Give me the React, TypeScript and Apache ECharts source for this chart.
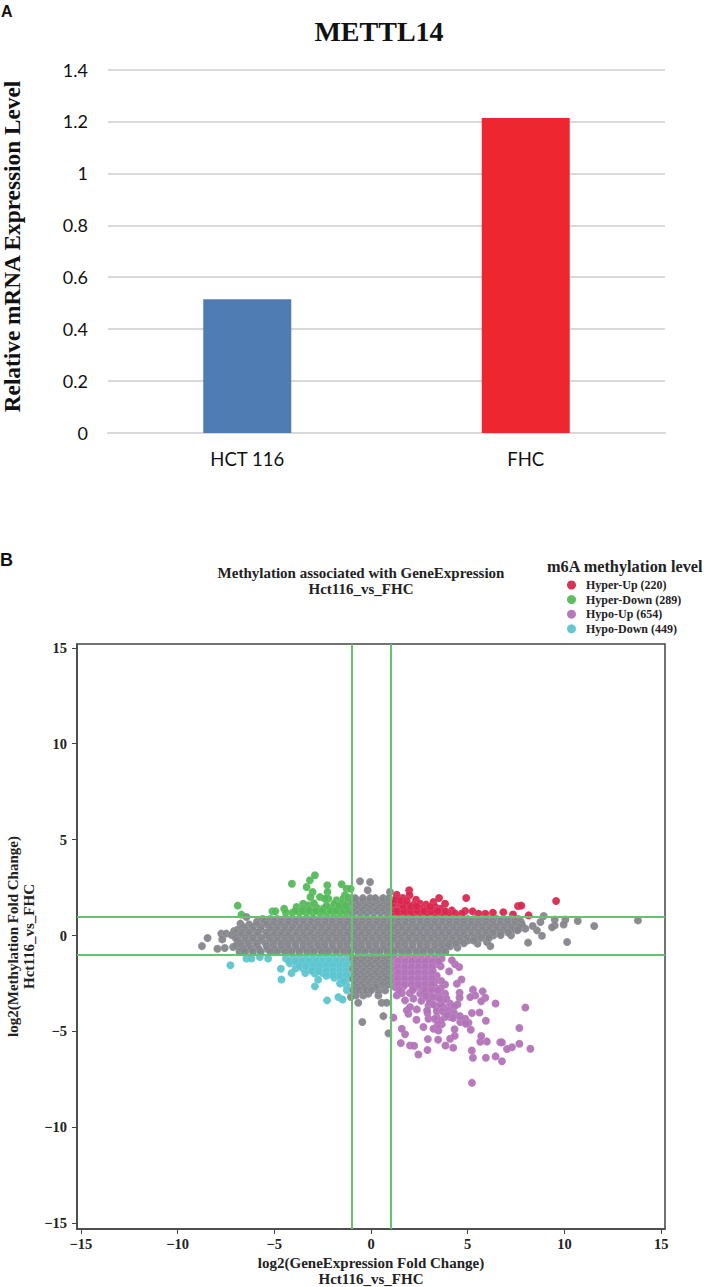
import React, { useEffect, useRef } from "react";
import * as echarts from "echarts";

const barCategories = ["HCT 116", "FHC"];
const barValues = [0.515, 1.213];
const barColors = ["#4f7db3", "#ee2630"];

const axisTicks = [-15, -10, -5, 0, 5, 10, 15];
const thresholds = [-1, 1];

const hyperUpNames = "Hyper-Up (220)";
const hyperDownNames = "Hyper-Down (289)";
const hypoUpNames = "Hypo-Up (654)";
const hypoDownNames = "Hypo-Down (449)";

const hyperUp = [
  [1.97,2.36],[4.92,1.96],[9.57,1.8],[7.6,1.54],[7.77,1.56],[6.84,1.21],[8.15,1.05],[3.52,1.96],[3.83,1.66],[2.33,1.87],
  [1.64,1.96],[1.33,2.13],[1.99,2.1],[1.36,1.66],[1.85,1.58],[2.54,1.66],[2.85,1.61],[3.23,1.75],[3.32,1.49],[4.18,1.31],
  [4.87,1.28],[5.25,1.26],[6.3,1.19],[7.34,1.1],[5.91,1.14],[5.56,1.14],[1.2,1.15],[1.55,1.15],[1.9,1.15],[2.25,1.15],
  [2.6,1.15],[2.95,1.15],[3.3,1.15],[3.65,1.15],[4,1.15],[4.35,1.15],[4.7,1.15],[1.15,1.4],[1.5,1.4],[1.85,1.4],[2.2,1.4],
  [2.55,1.4],[2.9,1.4],[3.25,1.3],[3.6,1.4],[1.15,1.7],[1.5,1.7],[2.2,1.6],[1.3,1.95],
  [1.35,1.27],[1.7,1.28],[2.05,1.27],[2.4,1.28],[2.75,1.27],[3.1,1.25],[3.45,1.27],[3.85,1.26],[1.65,1.55],[2.05,1.52],[2.35,1.52],[3.05,1.5],[1.25,1.85],[1.55,1.82],[1.85,1.8],
];

const hyperDown = [
  [-6.89,1.56],[-6.7,1.09],[-5.1,1.26],[-4.94,1.26],[-4.49,1.4],[-4.09,2.7],[-3.33,2.53],[-3.16,2.88],[-2.9,3.14],[-3.02,2.27],
  [-3.13,2.01],[-2.26,2.62],[-2.25,2.27],[-2.21,1.92],[-1.52,2.67],[-1.26,2.44],[-1.05,2.44],[-1.35,2.1],[-2.64,2.01],[-2.38,1.92],
  [-1.78,1.84],[-1.43,1.92],[-3.85,1.49],[-3.51,1.66],[-3.25,1.58],[-4.4,1.2],[-4.05,1.2],[-3.7,1.2],[-3.35,1.2],[-3,1.2],
  [-2.65,1.2],[-2.3,1.2],[-1.95,1.2],[-1.6,1.2],[-1.25,1.2],[-3.5,1.42],[-3.15,1.4],[-2.8,1.45],[-2.45,1.42],[-2.1,1.45],
  [-1.75,1.42],[-1.4,1.45],[-1.12,1.4],[-2.95,1.68],[-1.9,1.65],[-1.5,1.7],[-1.2,1.72],[-1.18,1.98],
  [-3.9,1.3],[-3.55,1.3],[-3.2,1.3],[-2.85,1.3],[-2.5,1.3],[-2.1,1.3],[-1.8,1.3],[-1.45,1.3],[-1.15,1.3],[-1.65,1.55],[-1.3,1.55],[-2.3,1.55],
];

const hypoUp = [
  [5.22,-7.68],[8.24,-5.9],[7.67,-5.64],[7.67,-4.82],[7.98,-3.75],[6.44,-3.54],[7.29,-5.82],[7.03,-5.92],[6.77,-6.55],[6.44,-6.3],
  [5.94,-6.37],[5.27,-6.37],[5.21,-5.99],[6.68,-5.56],[6.77,-5.57],[5.99,-5.52],[5.65,-5.54],[5.7,-5.24],[5.94,-4.44],[5.77,-2.91],
  [5.91,-3.24],[5.7,-3.43],[5.27,-2.82],[5.39,-3.12],[5.13,-3.21],[4.58,-2.98],[4.58,-3.24],[4.68,-2.29],[4.44,-2.51],[4.56,-1.64],
  [4.35,-1.5],[4.18,-1.29],[4.04,-1.87],[3.83,-2.55],[3.63,-2.37],[2.45,-6.2],[2.92,-5.97],[2.02,-5.73],[2.23,-5.75],[1.54,-5.61],
  [1.76,-5.15],[1.59,-4.86],[1.16,-4.28],[2.35,-4.39],[2.71,-4.77],[2.94,-5.4],[3.47,-5.43],[3.85,-5.73],[4.25,-5.85],[4.09,-5.38],
  [4.33,-5.22],[4.32,-4.89],[3.23,-4.86],[3.49,-4.95],[3.66,-4.63],[5.16,-4.91],[5.04,-4.55],[4.61,-4.51],[4.87,-4.34],[5.22,-4.04],
  [5.61,-4.01],[4.09,-4.25],[3.83,-4.25],[3.4,-4.25],[2.97,-4.34],[2.92,-4.04],[1.93,-4.08],[1.85,-3.9],[2.02,-3.73],[2.37,-3.85],
  [2.97,-3.64],[3.4,-3.73],[3.75,-3.73],[4.09,-3.55],[4.47,-3.59],[3.83,-3.03],[3.4,-3.21],[2.97,-3.29],[2.54,-3.03],[2.19,-3.29],
  [1.76,-3.38],[1.33,-3.12],[1.2,-1.2],[1.55,-1.2],[1.9,-1.2],[2.25,-1.2],[2.6,-1.2],[2.95,-1.2],[3.3,-1.2],[3.65,-1.2],
  [1.25,-1.5],[1.6,-1.5],[1.95,-1.5],[2.3,-1.5],[2.65,-1.5],[3,-1.5],[3.35,-1.5],[3.6,-1.6],[1.2,-1.8],[1.55,-1.8],[1.9,-1.8],
  [2.25,-1.8],[2.6,-1.8],[2.95,-1.8],[3.2,-1.85],[1.25,-2.1],[1.6,-2.1],[1.95,-2.1],[2.3,-2.1],[2.65,-2.1],[3,-2.1],[3.4,-2.1],
  [1.2,-2.4],[1.55,-2.4],[1.9,-2.4],[2.25,-2.4],[2.6,-2.4],[2.95,-2.4],[3.3,-2.4],[1.25,-2.7],[1.65,-2.7],[2.3,-2.7],[2.6,-2.7],
  [2.95,-2.7],[3.3,-2.7],[3.6,-2.75],[1.6,-3],[2,-3],[2.7,-3],[3.05,-3],[3.5,-3],[3.9,-3.3],[2.6,-3.4],[3.05,-3.5],[3.75,-3.35],
  [2.9,-3.9],[3.25,-3.6],[3.6,-3.6],[4.3,-3.7],[3.4,-3.95],[3.7,-3.95],[4,-3.9],[4.3,-4.05],[3.3,-4.35],[3.6,-4.45],[3.95,-4.15],
  [4.25,-4.3],[4.6,-4.2],[3.45,-4.65],[4.9,-4.6],
  [1.4,-1.35],[1.78,-1.35],[2.12,-1.35],[2.48,-1.35],[2.82,-1.35],[3.18,-1.35],[3.5,-1.35],[1.38,-1.65],[1.75,-1.65],[2.1,-1.65],[2.45,-1.65],[2.8,-1.65],[3.15,-1.65],
  [1.4,-1.95],[1.75,-1.95],[2.1,-1.95],[2.45,-1.95],[2.8,-1.95],[3.15,-1.95],[1.38,-2.25],[1.75,-2.25],[2.1,-2.25],[2.45,-2.25],[2.8,-2.25],[3.15,-2.25],
  [1.4,-2.55],[1.75,-2.55],[2.1,-2.55],[2.45,-2.55],[2.8,-2.55],[3.15,-2.55],[1.45,-2.85],[2.15,-2.85],[2.8,-2.85],[3.15,-2.85],[3.45,-2.85],[2.85,-3.15],[3.2,-3.2],[3.55,-3.3],
];

const hypoDown = [
  [-7.27,-1.55],[-6.44,-1.2],[-6.18,-1.2],[-5.75,-1.12],[-5.32,-1.2],[-4.63,-2.29],[-4.66,-1.73],[-4.11,-1.96],[-2.9,-2.65],[-2.27,-3.38],
  [-1.69,-3.21],[-1.47,-3.33],[-2.73,-2.3],[-1.26,-2.6],[-1.2,-2.25],[-4.4,-1.2],[-4.05,-1.2],[-3.7,-1.2],[-3.35,-1.2],[-3,-1.2],
  [-2.65,-1.2],[-2.3,-1.2],[-1.95,-1.2],[-1.6,-1.2],[-1.25,-1.2],[-4.2,-1.45],[-3.85,-1.45],[-3.5,-1.45],[-3.15,-1.45],[-2.8,-1.45],
  [-2.45,-1.45],[-2.1,-1.45],[-1.75,-1.45],[-1.4,-1.45],[-1.12,-1.45],[-3.9,-1.72],[-3.55,-1.7],[-3.2,-1.72],[-2.85,-1.7],[-2.5,-1.72],
  [-2.15,-1.7],[-1.8,-1.72],[-1.45,-1.7],[-1.15,-1.72],[-3.4,-1.95],[-2.9,-1.98],[-2.5,-1.95],[-2.1,-1.98],[-1.75,-1.95],[-1.4,-1.98],
  [-1.15,-1.95],[-1.9,-2.2],[-1.55,-2.2],[-1.2,-2.2],[-1.6,-2.5],[-1.25,-2.85],
  [-4.25,-1.33],[-3.9,-1.33],[-3.55,-1.33],[-3.2,-1.33],[-2.85,-1.33],[-2.5,-1.33],[-2.15,-1.33],[-1.8,-1.33],[-1.45,-1.33],[-1.15,-1.33],
  [-3.7,-1.58],[-3.35,-1.58],[-3,-1.58],[-2.65,-1.58],[-2.3,-1.58],[-1.95,-1.58],[-1.6,-1.58],[-1.28,-1.58],[-3.05,-1.85],[-2.7,-1.85],[-2.3,-1.85],[-1.95,-1.85],[-1.6,-1.85],[-1.28,-1.85],
  [-2.3,-2.1],[-1.95,-2.08],[-1.6,-2.08],[-1.28,-2.08],[-1.4,-2.38],
];

const grayOutliers = [
  [13.8,0.79],[11.54,0.5],[10.69,0.76],[10.14,-0.34],[8.12,-0.37],[10.05,0.83],[9.96,0.58],[9.5,0.83],[9.5,0.53],[9.36,0.43],
  [8.84,-0.01],[8.93,1.02],[8.76,0.71],[8.58,0.27],[8.36,0.5],[7.98,0.36],[7.55,0.27],[7.24,0.01],[6.34,0.01],[6.17,-0.55],
  [5.99,-0.34],[5.51,-0.42],[4.47,-0.63],[4.09,-0.56],[-8.74,-0.55],[-8.45,-0.13],[-7.94,-0.69],[-7.74,0.1],[-7.48,0.1],[-7.69,-0.2],
  [-7.56,-0.65],[-7.08,0.24],[-7.13,-0.6],[-6.75,0.62],[-6.44,0.97],[-0.57,2.83],[-0.05,2.79],[-0.17,2.36],[0.98,2.27],
  [-0.66,-3.5],[-0.45,-4.51],[0.64,-4.2],[0.9,-5.1],[0.55,-3.5],[0.81,-3.5],[0.38,-3.12],[0.38,-2.86],[0.73,-2.86],[-0.4,-3.12],
  [-0.14,-3.03],[-0.78,-3.12],[-1.04,-3.2],
];

const grayRows: [number, number[]][] = [
  [0.86, [-5.6,-5.2,-4.85,-4.45,-4.1,-3.7,-3.3,-2.95,-2.55,-2.2,-1.8,-1.4,-1.05,-0.65,-0.3,0.1,0.45,0.85,1.2,1.6,1.95,2.35,2.7,3.1,3.5,3.85,4.25,4.6,5,5.35,5.75,6.1,6.5,6.85,7.25,7.6]],
  [0.72, [-5.9,-5.5,-5,-4.65,-4.25,-3.9,-3.5,-3.1,-2.75,-2.35,-2,-1.6,-1.2,-0.85,-0.45,-0.1,0.3,0.65,1.05,1.4,1.8,2.15,2.55,2.9,3.3,3.7,4.05,4.45,4.8,5.2,5.55,5.95,6.3,6.7,7.05,7.45,7.75]],
  [0.58, [-6.3,-5.9,-5.4,-5.05,-4.65,-4.3,-3.9,-3.5,-3.15,-2.75,-2.4,-2,-1.6,-1.25,-0.85,-0.5,-0.1,0.25,0.65,1,1.4,1.75,2.15,2.55,2.9,3.3,3.65,4.05,4.4,4.8,5.2,5.55,5.95,6.3,6.7,7.05,7.45,7.8]],
  [0.44, [-6.6,-6.15,-5.7,-5.25,-4.85,-4.45,-4.05,-3.65,-3.3,-2.9,-2.55,-2.15,-1.8,-1.4,-1,-0.65,-0.25,0.1,0.5,0.85,1.25,1.6,2,2.35,2.75,3.1,3.5,3.9,4.25,4.65,5,5.4,5.75,6.15,6.5,6.9,7.25,7.65]],
  [0.3, [-6.9,-6.5,-6.1,-5.7,-5.2,-4.85,-4.45,-4.1,-3.7,-3.3,-2.95,-2.55,-2.2,-1.8,-1.4,-1.05,-0.65,-0.3,0.1,0.45,0.85,1.2,1.6,1.95,2.35,2.7,3.1,3.5,3.85,4.25,4.6,5,5.35,5.75,6.1,6.5,6.85,7.25,7.6]],
  [0.16, [-7,-6.65,-6.3,-5.85,-5.4,-5,-4.6,-4.25,-3.85,-3.5,-3.1,-2.7,-2.35,-1.95,-1.6,-1.2,-0.85,-0.45,-0.1,0.3,0.65,1.05,1.4,1.8,2.15,2.55,2.9,3.3,3.7,4.05,4.45,4.8,5.2,5.55,5.95,6.3,6.7,7.1]],
  [0.02, [-7.2,-6.7,-6.3,-5.9,-5.4,-5.05,-4.65,-4.3,-3.9,-3.5,-3.15,-2.75,-2.4,-2,-1.6,-1.25,-0.85,-0.5,-0.1,0.25,0.65,1,1.4,1.75,2.15,2.55,2.9,3.3,3.65,4.05,4.4,4.8,5.2,5.55,5.95,6.7]],
  [-0.12, [-7,-6.5,-6.1,-5.65,-5.25,-4.85,-4.45,-4.1,-3.7,-3.35,-2.95,-2.6,-2.2,-1.8,-1.45,-1.05,-0.7,-0.3,0.05,0.45,0.8,1.2,1.55,1.95,2.35,2.7,3.1,3.45,3.85,4.2,4.6,4.95,5.35,5.7,6.1]],
  [-0.26, [-6.9,-6.5,-6.1,-5.7,-5.2,-4.85,-4.45,-4.1,-3.7,-3.3,-2.95,-2.55,-2.2,-1.8,-1.4,-1.05,-0.65,-0.3,0.1,0.45,0.85,1.2,1.6,1.95,2.35,2.7,3.1,3.5,3.85,4.25,4.6,5,5.3]],
  [-0.4, [-6.75,-6.35,-5.9,-5.45,-5.05,-4.65,-4.3,-3.9,-3.5,-3.15,-2.75,-2.4,-2,-1.6,-1.25,-0.85,-0.5,-0.1,0.25,0.65,1,1.4,1.75,2.15,2.55,2.9,3.3,3.65,4.05,4.4,4.8]],
  [-0.54, [-7,-6.7,-6.3,-5.9,-5.4,-5.05,-4.65,-4.3,-3.9,-3.5,-3.15,-2.75,-2.4,-2,-1.6,-1.25,-0.85,-0.5,-0.1,0.25,0.65,1,1.4,1.75,2.15,2.55,2.9,3.3,3.65,3.95]],
  [-0.7, [-6.6,-6.2,-5.8,-5.35,-5,-4.6,-4.25,-3.85,-3.5,-3.1,-2.7,-2.35,-1.95,-1.6,-1.2,-0.85,-0.45,-0.1,0.3,0.65,1.05,1.4,1.8,2.15,2.55,2.9,3.3,3.7]],
  [-0.84, [-6.8,-6.5,-6.1,-5.7,-5.2,-4.85,-4.45,-4.1,-3.7,-3.3,-2.95,-2.55,-2.2,-1.8,-1.4,-1.05,-0.65,-0.3,0.1,0.45,0.85,1.2,1.6,1.95,2.35,2.7,3.1,3.5,3.85]],
  [1.18, [-0.92,-0.55,-0.2,0.15,0.5,0.82]],
  [1.31, [-0.75,-0.4,-0.02,0.32,0.68]],
  [1.44, [-0.85,-0.5,-0.12,0.22,0.58,0.9]],
  [1.57, [-0.72,-0.35,0,0.38,0.72]],
  [1.7, [-0.92,-0.6,-0.25,0.1,0.45,0.82]],
  [1.83, [-0.75,-0.4,-0.05,0.3,0.65]],
  [1.95, [-0.82,-0.42,-0.05,0.22,0.62,0.92]],
  [-1.16, [-0.92,-0.55,-0.2,0.15,0.5,0.82]],
  [-1.3, [-0.75,-0.4,-0.02,0.32,0.68]],
  [-1.44, [-0.85,-0.5,-0.12,0.22,0.58,0.9]],
  [-1.58, [-0.72,-0.35,0,0.38,0.72]],
  [-1.72, [-0.92,-0.6,-0.25,0.1,0.45,0.82]],
  [-1.86, [-0.75,-0.4,-0.05,0.3,0.65]],
  [-2, [-0.85,-0.5,-0.12,0.22,0.58,0.9]],
  [-2.14, [-0.72,-0.35,0,0.38,0.72]],
  [-2.28, [-0.92,-0.6,-0.25,0.1,0.45,0.82]],
  [-2.42, [-0.75,-0.4,-0.05,0.3,0.65]],
  [-2.56, [-0.85,-0.5,-0.12,0.22,0.58,0.88]],
  [-2.7, [-0.72,-0.35,0,0.25]],
  [-2.84, [-0.92,-0.6,-0.25,0.02]],
];

const gray = [
  ...grayOutliers,
  ...grayRows.flatMap(([y, xs]) => xs.map((x) => [x, y])),
];

const serif = '"Liberation Serif", serif';
const dotSize = 8;

function scatterSeries(name: string, data: number[][], color: string, extra: object = {}) {
  return {
    type: "scatter",
    name,
    xAxisIndex: 1,
    yAxisIndex: 1,
    data,
    symbolSize: dotSize,
    itemStyle: { color, opacity: 0.95, borderColor: "rgba(255,255,255,0.2)", borderWidth: 0.6 },
    ...extra,
  };
}

export default function App() {
  const ref = useRef<HTMLDivElement>(null);
  useEffect(() => {
    const chart = echarts.init(ref.current!, undefined, { renderer: "svg" });
    const minus = (v: number) => String(v).replace("-", "\u2212");
    chart.setOption({
      animation: false,
      backgroundColor: "#fff",
      title: [
        {
          text: "METTL14", left: 374, top: 12, textAlign: "center",
          textStyle: { fontFamily: serif, fontWeight: "bold", fontSize: 28, color: "#111" },
        },
        {
          text: "Methylation associated with GeneExpression\nHct116_vs_FHC", left: 356, top: 560, textAlign: "center",
          textStyle: { fontFamily: serif, fontWeight: "bold", fontSize: 15, lineHeight: 16, color: "#222" },
        },
      ],
      legend: {
        orient: "vertical", left: 567, top: 579, padding: 0, itemWidth: 9, itemHeight: 9, itemGap: 2.6, icon: "circle",
        data: [hyperUpNames, hyperDownNames, hypoUpNames, hypoDownNames],
        textStyle: { fontFamily: serif, fontWeight: "bold", fontSize: 12, color: "#222", padding: [0, 0, 0, 5] },
        itemStyle: { borderWidth: 0 },
      },
      graphic: [
        { type: "text", left: 1, top: 3, style: { text: "A", font: 'bold 16px "Liberation Sans"', fill: "#111" } },
        { type: "text", left: 0, top: 551, style: { text: "B", font: 'bold 18px "Liberation Sans"', fill: "#111" } },
        { type: "text", left: 547, top: 558, style: { text: "m6A methylation level", font: `bold 16.3px ${serif}`, fill: "#222" } },
        {
          type: "text", x: 12, y: 246.5, rotation: Math.PI / 2,
          style: { text: "Relative mRNA Expression Level", font: `bold 23.3px ${serif}`, fill: "#111", align: "center", verticalAlign: "middle" },
        },
      ],
      grid: [
        { left: 108, top: 69.5, width: 557, height: 363.5, outerBoundsMode: "none" },
        { left: 77, top: 644, width: 588, height: 585, show: true, borderColor: "#444", borderWidth: 1.5, backgroundColor: "transparent", outerBoundsMode: "none" },
      ],
      xAxis: [
        {
          gridIndex: 0, type: "category", data: barCategories,
          axisLine: { lineStyle: { color: "#d9d9d9", width: 2 } }, axisTick: { show: false },
          axisLabel: { fontFamily: "Lato", fontSize: 18.5, color: "#111", margin: 16 },
        },
        {
          gridIndex: 1, type: "value", min: -15.2, max: 15.2,
          name: "log2(GeneExpression Fold Change)\nHct116_vs_FHC", nameLocation: "middle", nameGap: 26, nameMoveOverlap: false,
          nameTextStyle: { fontFamily: serif, fontWeight: "bold", fontSize: 15, lineHeight: 16, color: "#222", verticalAlign: "top" },
          splitLine: { show: false },
          axisLine: { onZero: false, lineStyle: { color: "#444", width: 1.5 } },
          axisTick: { customValues: axisTicks, length: 5, lineStyle: { color: "#444" } },
          axisLabel: { customValues: axisTicks, formatter: minus, fontFamily: serif, fontWeight: "bold", fontSize: 14.5, color: "#222", margin: 7 },
        },
      ],
      yAxis: [
        {
          gridIndex: 0, type: "value", min: 0, max: 1.4, interval: 0.2,
          axisLine: { show: false }, axisTick: { show: false },
          splitLine: { lineStyle: { color: "#d9d9d9", width: 2 } },
          axisLabel: {
            fontFamily: "Lato", fontSize: 18, color: "#111", margin: 20,
            formatter: (v: number) => String(Math.round(v * 10) / 10),
          },
        },
        {
          gridIndex: 1, type: "value", min: -15.3, max: 15.2,
          name: "log2(Methylation Fold Change)\nHct116_vs_FHC", nameLocation: "middle", nameGap: 40, nameMoveOverlap: false,
          nameTextStyle: { fontFamily: serif, fontWeight: "bold", fontSize: 15, lineHeight: 16, color: "#222" },
          splitLine: { show: false },
          axisLine: { onZero: false, lineStyle: { color: "#444", width: 1.5 } },
          axisTick: { customValues: axisTicks, length: 5, lineStyle: { color: "#444" } },
          axisLabel: { customValues: axisTicks, formatter: minus, fontFamily: serif, fontWeight: "bold", fontSize: 14.5, color: "#222", margin: 10 },
        },
      ],
      series: [
        {
          type: "bar", xAxisIndex: 0, yAxisIndex: 0, barWidth: 88,
          data: barValues.map((value, i) => ({ value, itemStyle: { color: barColors[i] } })),
        },
        scatterSeries(hyperUpNames, hyperUp, "#d9274f"),
        scatterSeries(hyperDownNames, hyperDown, "#55b85a"),
        scatterSeries(hypoUpNames, hypoUp, "#b273b8"),
        scatterSeries(hypoDownNames, hypoDown, "#5cc5d0"),
        scatterSeries("Other", gray, "#85858c", {
          markLine: {
            silent: true, symbol: "none", label: { show: false }, z: 10,
            lineStyle: { color: "#62c46c", width: 2, type: "solid" },
            data: [
              ...thresholds.map((xAxis) => ({ xAxis })),
              ...thresholds.map((yAxis) => ({ yAxis })),
            ],
          },
        }),
      ],
    });
    return () => chart.dispose();
  }, []);
  return <div ref={ref} style={{ position: "absolute", left: 0, top: 0, width: 704, height: 1287 }} />;
}
